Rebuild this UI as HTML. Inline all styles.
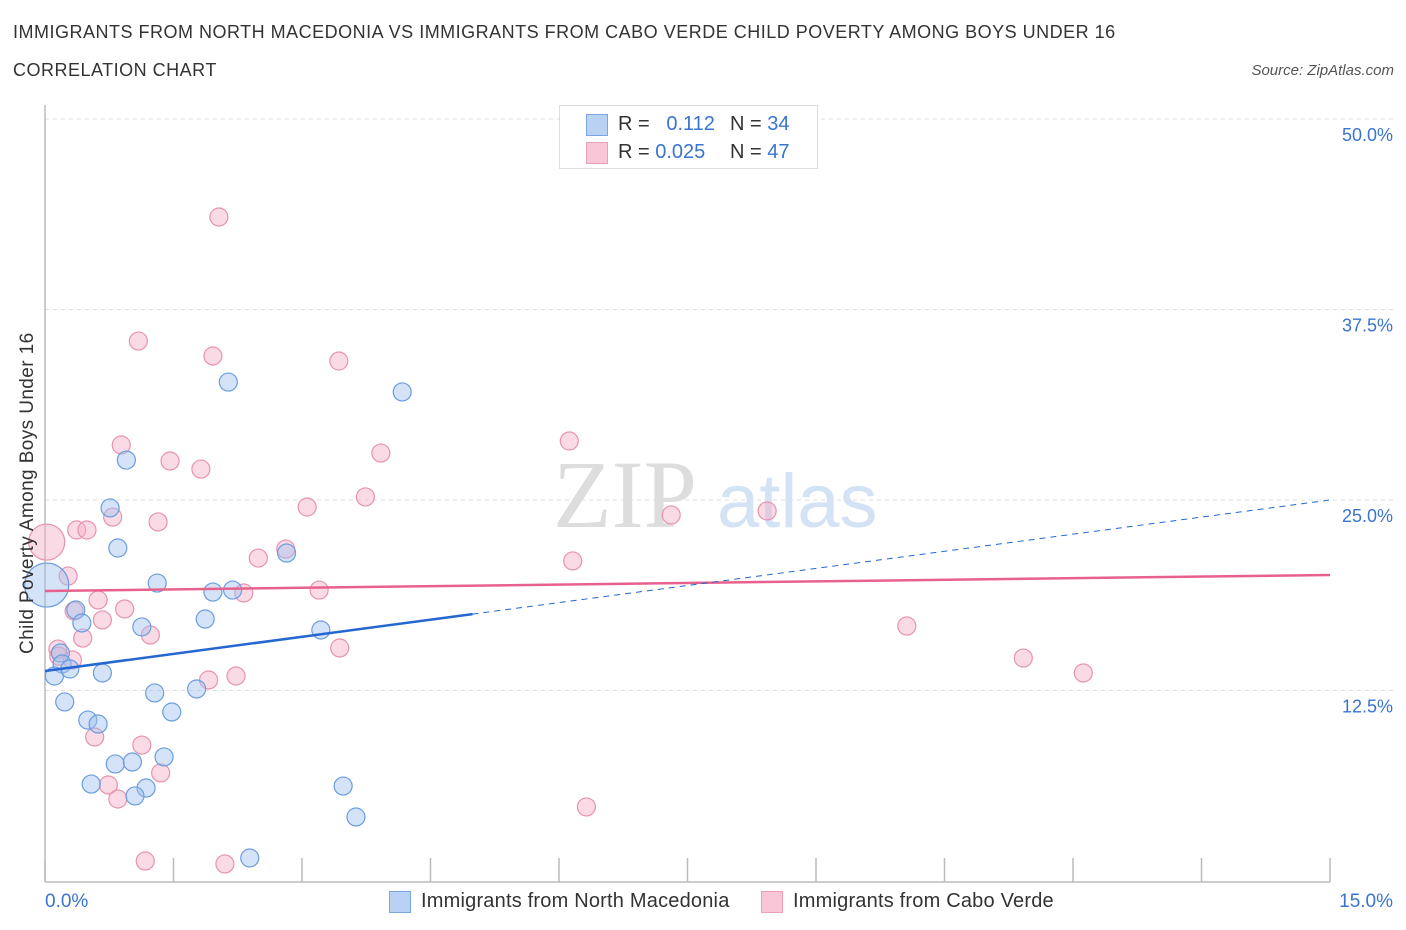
<!DOCTYPE html>
<html><head><meta charset="utf-8"><style>
body{margin:0;background:#fff;font-family:"Liberation Sans",sans-serif;}
#c{position:relative;width:1406px;height:930px;overflow:hidden}
.t{position:absolute;white-space:nowrap}
</style></head><body><div id="c">
<div class="t" style="left:13px;top:22px;font-size:18px;letter-spacing:0.5px;color:#333">IMMIGRANTS FROM NORTH MACEDONIA VS IMMIGRANTS FROM CABO VERDE CHILD POVERTY AMONG BOYS UNDER 16</div>
<div class="t" style="left:13px;top:60px;font-size:18px;letter-spacing:0.5px;color:#333">CORRELATION CHART</div>
<div class="t" style="right:12px;top:62px;font-size:15px;color:#555;font-style:italic">Source: ZipAtlas.com</div>
<svg id="s" width="1406" height="930" style="position:absolute;left:0;top:0"></svg>
</div>
<script>
const ticksY=[12.5,25,37.5,50];
const tickLabelsY=["12.5%","25.0%","37.5%","50.0%"];
const blueX=[0.02,0.76,0.95,2.14,4.17,0.85,2.82,1.31,1.96,2.19,0.36,0.43,1.13,1.87,3.22,0.18,0.20,0.11,0.29,0.67,1.28,1.77,0.23,0.50,0.62,1.48,1.39,0.82,1.02,0.54,1.18,1.05,3.48,3.63,2.39];
const blueY=[19.42,24.48,27.62,32.74,32.09,21.85,21.52,19.55,18.96,19.09,17.78,16.93,16.67,17.19,16.47,14.96,14.24,13.45,13.91,13.65,12.34,12.60,11.75,10.56,10.30,11.09,8.14,7.68,7.81,6.36,6.10,5.58,6.23,4.20,1.51];
const pinkX=[2.03,1.09,1.96,3.43,6.12,0.89,3.92,1.46,1.82,3.74,3.06,0.79,1.32,7.31,8.43,0.37,0.49,0.02,2.49,2.81,6.16,0.27,0.62,2.32,3.20,0.93,0.67,0.34,1.23,0.44,10.06,3.44,0.15,11.42,0.16,1.91,2.23,12.12,0.58,1.13,1.35,0.74,0.85,6.32,1.17,2.10,0.32];
const pinkY=[43.57,35.43,34.45,34.12,28.87,28.61,28.08,27.56,27.03,25.20,24.54,23.88,23.56,24.02,24.28,23.03,23.03,22.24,21.19,21.78,21.00,20.01,18.44,18.90,19.09,17.85,17.13,17.72,16.14,15.94,16.73,15.29,15.22,14.63,14.76,13.19,13.45,13.65,9.45,8.92,7.09,6.30,5.38,4.86,1.31,1.12,14.50];
const blueTrend=[13.78,25.0];
const pinkTrend=[19.03,20.08];
const X0=45,X1=1330,Y0=881,YS=762/50;
const sx=v=>X0+v/15*(X1-X0), sy=v=>Y0-v*YS;
const s=document.getElementById('s');const NS='http://www.w3.org/2000/svg';
function mk(tag,at,parent){const e=document.createElementNS(NS,tag);for(const k in at)e.setAttribute(k,at[k]);(parent||s).appendChild(e);return e;}
ticksY.forEach((v,i)=>{
 const g=mk('line',{x1:45,x2:1395,y1:sy(v),y2:sy(v),stroke:'#ddd','stroke-dasharray':'4,4'});
 
 
 const t=mk('text',{x:1393,y:sy(v)+22,'text-anchor':'end','font-size':18,fill:'#3a74d0','font-family':'Liberation Sans'});
 t.textContent=tickLabelsY[i];
 
 
});
const wz=mk('text',{x:553,y:527,'font-size':96,fill:'#ddd','font-family':'Liberation Serif'});wz.textContent='ZIP';


const wa=mk('text',{x:717,y:527,'font-size':76,fill:'#d4e2f6','font-family':'Liberation Sans'});wa.textContent='atlas';


const ya=mk('line',{x1:45,x2:45,y1:105,y2:882,stroke:'#bbb','stroke-width':1.5});


const xa=mk('line',{x1:45,x2:1330,y1:882,y2:882,stroke:'#bbb','stroke-width':1.5});


for(let i=0;i<=10;i++){const t=mk('line',{x1:sx(i*1.5),x2:sx(i*1.5),y1:858,y2:882,stroke:'#bbb','stroke-width':1.5});
 
 }
function dots(xs,ys,fill,stroke,name,big){xs.forEach((x,i)=>{const r=(x<0.05)?big:9;
 const c=mk('circle',{cx:sx(x),cy:sy(ys[i]),r:r,fill:fill,stroke:stroke,'stroke-width':1.2});
 
 });}
dots(pinkX,pinkY,'rgba(244,176,198,0.45)','#e893ad','pink-point',18);
dots(blueX,blueY,'rgba(160,192,238,0.45)','#6b9de0','blue-point',22);
const pl=mk('line',{x1:sx(0),x2:sx(15),y1:sy(pinkTrend[0]),y2:sy(pinkTrend[1]),stroke:'#e8618c','stroke-width':2.5});


const bx=4.99,by=blueTrend[0]+(blueTrend[1]-blueTrend[0])*bx/15;
const bl=mk('line',{x1:sx(0),x2:sx(bx),y1:sy(blueTrend[0]),y2:sy(by),stroke:'#2467d0','stroke-width':2.5});


const bd=mk('line',{x1:sx(bx),x2:sx(15),y1:sy(by),y2:sy(blueTrend[1]),stroke:'#2467d0','stroke-width':1,'stroke-dasharray':'6,5'});


</script>
<div class="t" style="left:17px;top:654px;transform-origin:0 0;transform:rotate(-90deg);font-size:19px;letter-spacing:0.4px;color:#333">Child Poverty Among Boys Under 16</div>
<div class="t" style="left:45px;top:891px;font-size:19px;color:#3a74d0">0.0%</div>
<div class="t" style="right:13px;top:891px;font-size:19px;color:#3a74d0">15.0%</div>
<div class="t" style="left:559px;top:105px;width:257px;height:62px;border:1px solid #ddd;background:#fff">
 <div class="t" style="left:26px;top:8px;width:20px;height:20px;background:#b9d2f4;border:1px solid #7aa6e4"></div>
 <div class="t" style="left:26px;top:36px;width:20px;height:20px;background:#f8c6d6;border:1px solid #eaa0b8"></div>
 <div class="t" style="left:58px;top:7px;font-size:20px;color:#333">R = &nbsp;&nbsp;<span style="color:#3a74d0">0.112</span></div>
 <div class="t" style="left:170px;top:7px;font-size:20px;color:#333">N = <span style="color:#3a74d0">34</span></div>
 <div class="t" style="left:58px;top:35px;font-size:20px;color:#333">R = <span style="color:#3a74d0">0.025</span></div>
 <div class="t" style="left:170px;top:35px;font-size:20px;color:#333">N = <span style="color:#3a74d0">47</span></div>
</div>
<div class="t" style="left:389px;top:891px;width:20px;height:20px;background:#b9d2f4;border:1px solid #7aa6e4"></div>
<div class="t" style="left:421px;top:890px;font-size:20px;letter-spacing:0.2px;color:#333">Immigrants from North Macedonia</div>
<div class="t" style="left:761px;top:891px;width:20px;height:20px;background:#f8c6d6;border:1px solid #eaa0b8"></div>
<div class="t" style="left:793px;top:890px;font-size:20px;letter-spacing:0.2px;color:#333">Immigrants from Cabo Verde</div>
</body></html>
